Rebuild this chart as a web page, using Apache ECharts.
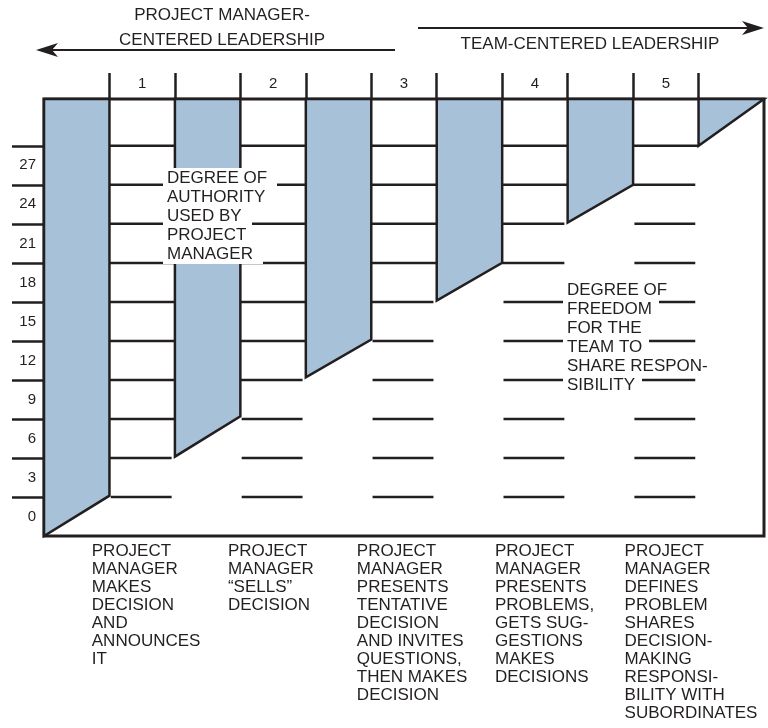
<!DOCTYPE html>
<html>
<head>
<meta charset="utf-8">
<script src="https://cdn.jsdelivr.net/npm/echarts@6/dist/echarts.min.js"></script>
<style>
html, body { margin: 0; padding: 0; background: #fff; }
#chart { width: 768px; height: 728px; }
</style>
</head>
<body>
<div id="chart"></div>
<script>
// level of the authority / freedom boundary at each column edge (edges 0..11)
const boundaryLevels = [-1.5, 1.6, 4.6, 7.7, 10.7, 13.6, 16.6, 19.5, 22.6, 25.5, 28.5, 32.1];
const shadedColumns = [0, 2, 4, 6, 8, 10];
const openColumns = [1, 3, 5, 7, 9];
const columnNumbers = ['1', '2', '3', '4', '5'];
const gridLevels = [1.5, 4.5, 7.5, 10.5, 13.5, 16.5, 19.5, 22.5, 25.5, 28.5];
const yTickLabels = [0, 3, 6, 9, 12, 15, 18, 21, 24, 27];
const behaviourLabels = [
  'PROJECT\nMANAGER\nMAKES\nDECISION\nAND\nANNOUNCES\nIT',
  'PROJECT\nMANAGER\n“SELLS”\nDECISION',
  'PROJECT\nMANAGER\nPRESENTS\nTENTATIVE\nDECISION\nAND INVITES\nQUESTIONS,\nTHEN MAKES\nDECISION',
  'PROJECT\nMANAGER\nPRESENTS\nPROBLEMS,\nGETS SUG-\nGESTIONS\nMAKES\nDECISIONS',
  'PROJECT\nMANAGER\nDEFINES\nPROBLEM\nSHARES\nDECISION-\nMAKING\nRESPONSI-\nBILITY WITH\nSUBORDINATES'
];
const authorityNote = ['DEGREE OF', 'AUTHORITY', 'USED BY', 'PROJECT', 'MANAGER'];
const freedomNote = ['DEGREE OF', 'FREEDOM', 'FOR THE', 'TEAM TO', 'SHARE RESPON-', 'SIBILITY'];
const leftHeading = 'PROJECT MANAGER-\nCENTERED LEADERSHIP';
const rightHeading = 'TEAM-CENTERED LEADERSHIP';

const INK = '#231f20';
const FILL = '#a6c1d8';
const FONT = '"Liberation Sans", Arial, sans-serif';
const NOTE_FONT = '17px ' + FONT;
const yMin = boundaryLevels[0];
const yMax = boundaryLevels[boundaryLevels.length - 1];

// where things sit (layout, not data)
const behaviourPos = [0.73, 2.81, 4.78, 6.89, 8.87];
const notePos = [[1.82, 26.8], [7.93, 18.2]];
const notePad = [[4, 10], [4, 7]];
const notes = [authorityNote, freedomNote];

let shadedData = shadedColumns.map(c => [c, boundaryLevels[c], boundaryLevels[c + 1]]);
let lineData = [];
openColumns.forEach(c => {
  gridLevels.forEach(l => {
    let touchLeft = l >= boundaryLevels[c] - 0.01 ? 1 : 0;
    let touchRight = l >= boundaryLevels[c + 1] - 0.01 ? 1 : 0;
    lineData.push([c, l, touchLeft, touchRight]);
  });
});

// text widths for the white boxes behind the captions
let measureCtx = document.createElement('canvas').getContext('2d');
measureCtx.font = NOTE_FONT;
const textWidth = (s) => measureCtx.measureText(s).width;

let myChart = echarts.init(document.getElementById('chart'));

let option = {
  animation: false,
  textStyle: { fontFamily: FONT, color: INK },
  grid: {
    left: 44, right: 4, top: 99, bottom: 192,
    show: true, borderColor: INK, borderWidth: 3, backgroundColor: '#fff'
  },
  xAxis: [
    {
      type: 'value', position: 'top', min: 0, max: 11,
      axisLine: { show: false, onZero: false },
      splitLine: { show: false },
      axisTick: {
        show: true, customValues: [1, 2, 3, 4, 5, 6, 7, 8, 9, 10],
        length: 26, lineStyle: { color: INK, width: 2.5 }
      },
      axisLabel: {
        customValues: [1.5, 3.5, 5.5, 7.5, 9.5],
        formatter: (v) => columnNumbers[Math.round((v - 1.5) / 2)],
        fontSize: 15, color: INK, margin: 8
      }
    },
    {
      type: 'value', position: 'bottom', min: 0, max: 11,
      axisLine: { show: false, onZero: false },
      splitLine: { show: false },
      axisTick: { show: false },
      axisLabel: {
        customValues: behaviourPos,
        formatter: (v) => behaviourLabels[behaviourPos.findIndex(p => Math.abs(p - v) < 1e-6)],
        align: 'left', verticalAlign: 'top',
        fontSize: 17, lineHeight: 18, color: INK, margin: 6
      }
    }
  ],
  yAxis: {
    type: 'value', min: yMin, max: yMax,
    axisLine: { show: false, onZero: false },
    splitLine: { show: false },
    axisTick: {
      show: true, customValues: gridLevels,
      length: 32, lineStyle: { color: INK, width: 2.5 }
    },
    axisLabel: {
      customValues: yTickLabels,
      fontSize: 15, color: INK, margin: 8
    }
  },
  series: [
    {
      // degree of authority used by the project manager
      type: 'custom',
      xAxisIndex: 0,
      z: 2,
      data: shadedData,
      renderItem(params, api) {
        let c = api.value(0);
        let pts = [
          api.coord([c, yMax]),
          api.coord([c + 1, yMax]),
          api.coord([c + 1, api.value(2)]),
          api.coord([c, api.value(1)])
        ];
        return {
          type: 'polygon',
          shape: { points: pts },
          style: { fill: FILL, stroke: INK, lineWidth: 2.5, lineJoin: 'miter' }
        };
      }
    },
    {
      // rungs in the open columns
      type: 'custom',
      xAxisIndex: 0,
      z: 3,
      data: lineData,
      renderItem(params, api) {
        let c = api.value(0);
        let l = api.value(1);
        let a = api.coord([c + (api.value(2) ? 0 : 0.02), l]);
        let b = api.coord([c + 1 - (api.value(3) ? 0 : 0.05), l]);
        return {
          type: 'line',
          shape: { x1: a[0], y1: a[1], x2: b[0], y2: b[1] },
          style: { stroke: INK, lineWidth: 2.5 }
        };
      }
    },
    {
      // the two captions inside the frame
      type: 'custom',
      xAxisIndex: 0,
      z: 5,
      data: notePos.map((p, i) => [p[0], p[1], i]),
      renderItem(params, api) {
        let i = api.value(2);
        let p = api.coord([api.value(0), api.value(1)]);
        let pad = notePad[i];
        let lh = 19;
        let children = [];
        notes[i].forEach((s, k) => {
          children.push({
            type: 'rect',
            shape: { x: Math.round(p[0]), y: Math.round(p[1] + k * lh), width: Math.round(textWidth(s) + pad[0] + pad[1]), height: lh + 1 },
            style: { fill: '#fff' }
          });
        });
        notes[i].forEach((s, k) => {
          children.push({
            type: 'text',
            style: {
              text: s, x: Math.round(p[0]) + pad[0], y: Math.round(p[1] + k * lh) + lh / 2 + 0.5,
              align: 'left', verticalAlign: 'middle', font: NOTE_FONT, fill: INK
            }
          });
        });
        return { type: 'group', children: children };
      }
    }
  ],
  graphic: [
    {
      type: 'text',
      style: { text: leftHeading, x: 222, y: 3, align: 'center', font: '17px ' + FONT, fill: INK, lineHeight: 25 }
    },
    {
      type: 'line', shape: { x1: 50, y1: 50, x2: 395, y2: 50 }, style: { stroke: INK, lineWidth: 2 }
    },
    {
      type: 'polygon', shape: { points: [[36, 50], [58, 43], [52, 50], [58, 57]] }, style: { fill: INK }
    },
    {
      type: 'line', shape: { x1: 418, y1: 28, x2: 750, y2: 28 }, style: { stroke: INK, lineWidth: 2 }
    },
    {
      type: 'polygon', shape: { points: [[764, 28], [742, 21], [748, 28], [742, 35]] }, style: { fill: INK }
    },
    {
      type: 'text',
      style: { text: rightHeading, x: 590, y: 36, align: 'center', font: '17px ' + FONT, fill: INK }
    }
  ]
};

myChart.setOption(option);
</script>
</body>
</html>
